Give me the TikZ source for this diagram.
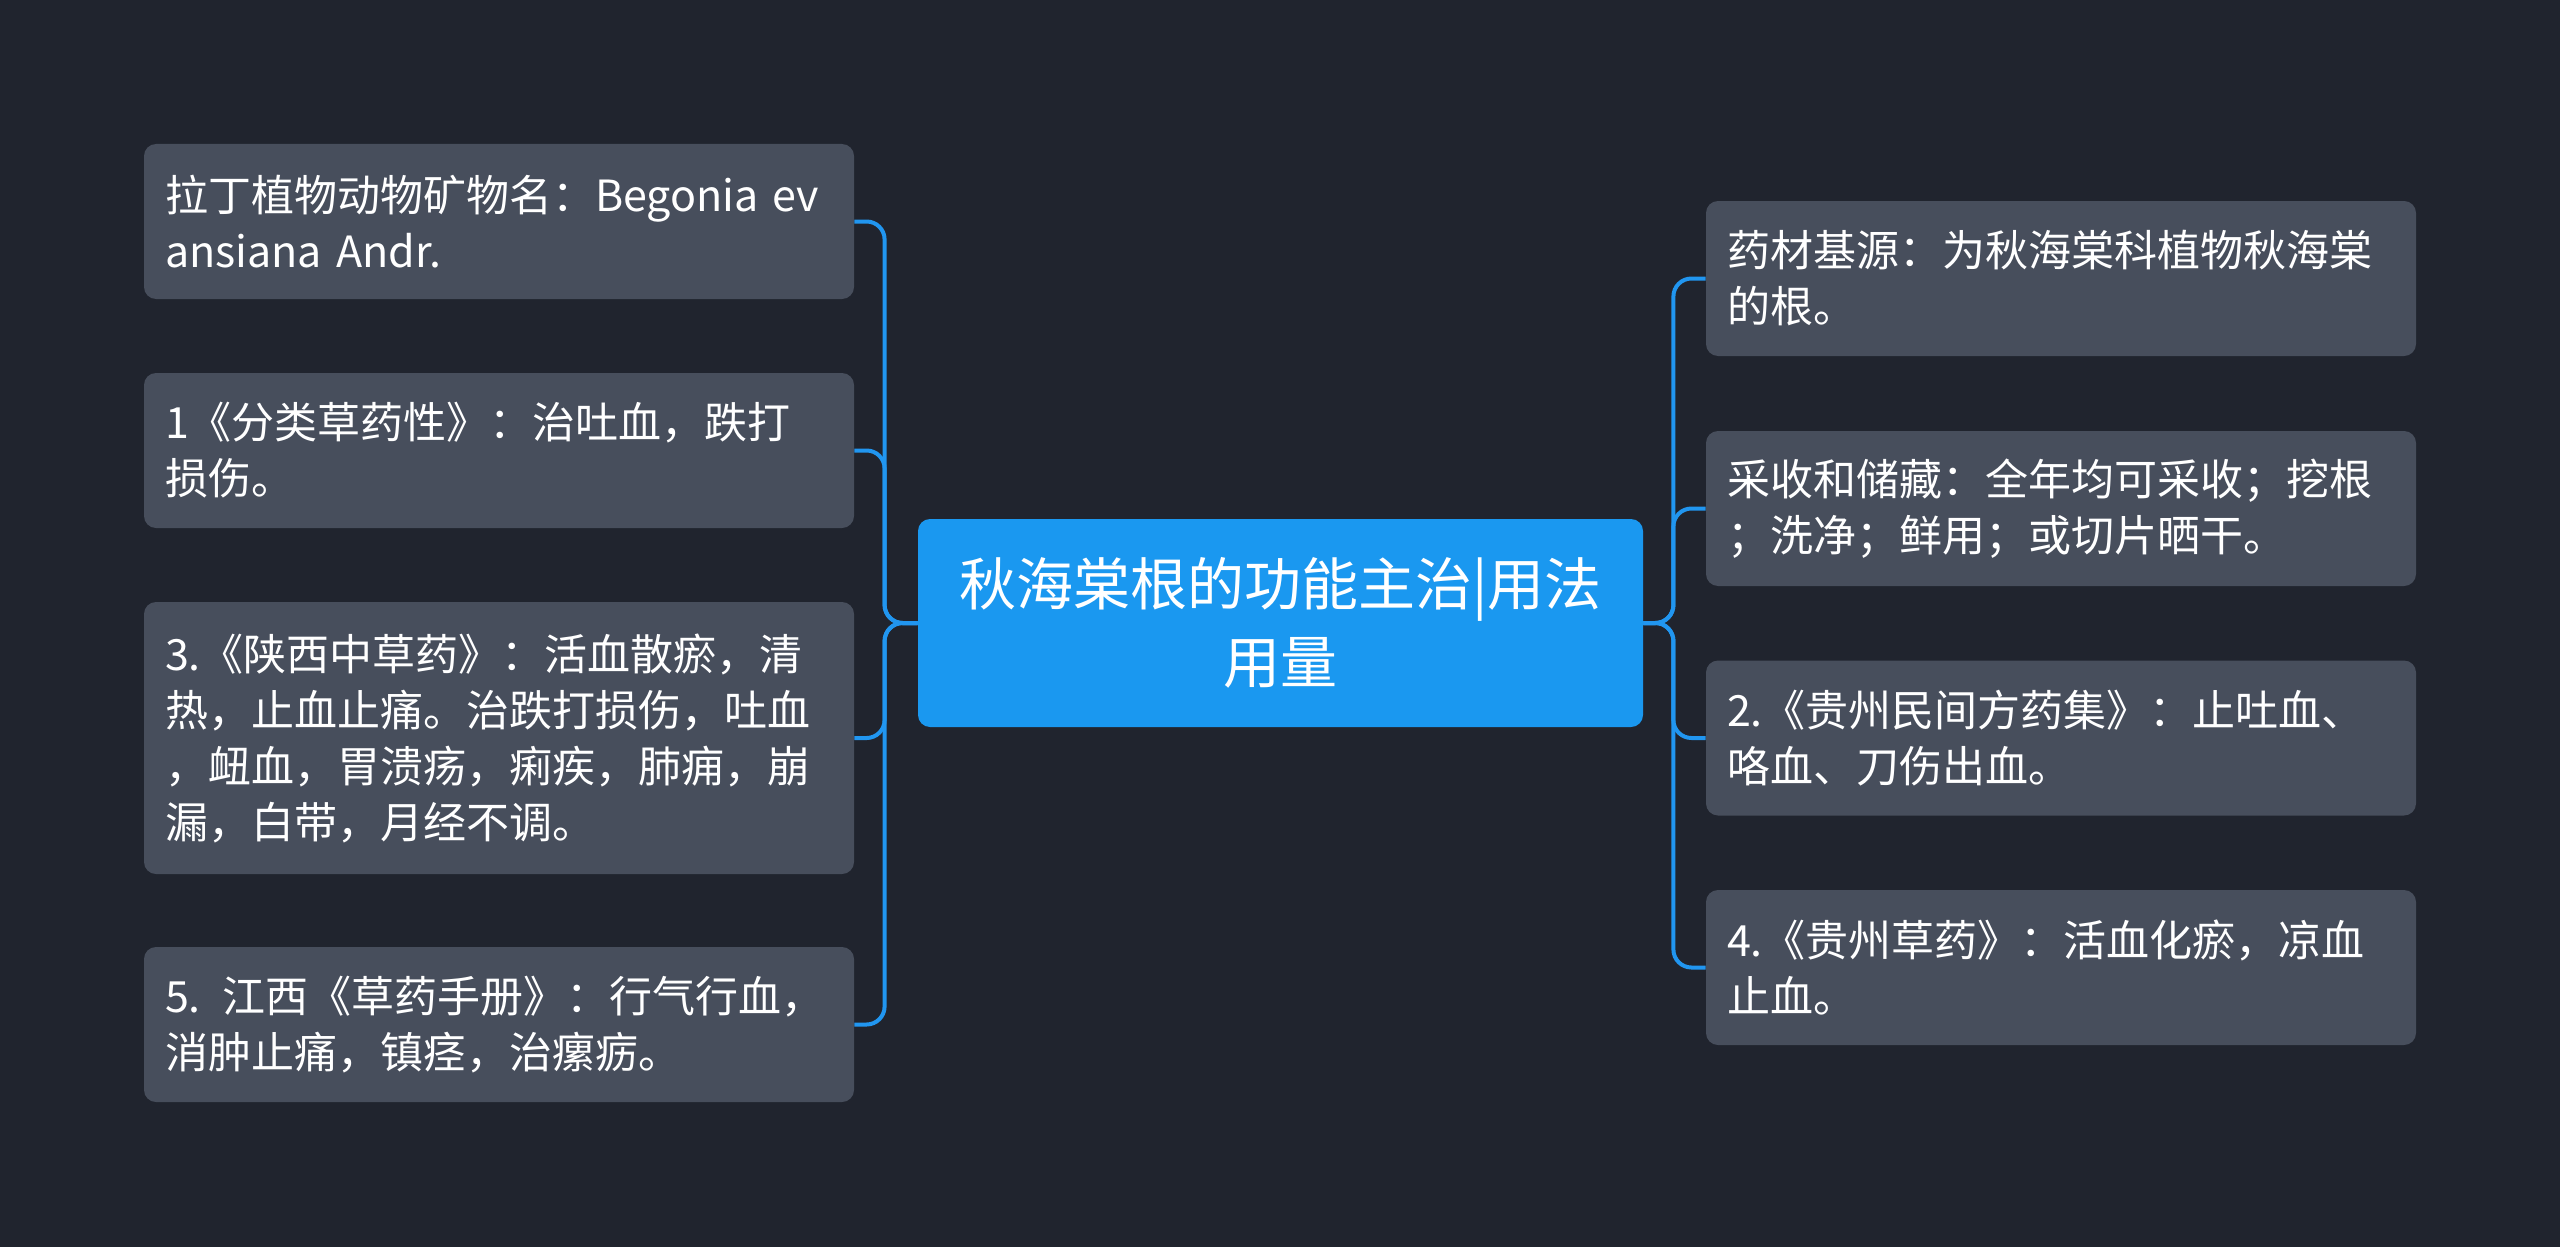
\documentclass[tikz,border=0pt]{standalone}
\usepackage{fontspec}
\setmainfont{Noto Sans CJK SC}
\definecolor{bgnavy}{HTML}{20242E}
\definecolor{leafgray}{HTML}{474E5C}
\definecolor{hubblue}{HTML}{1A98F0}
\definecolor{wireblue}{HTML}{2196F0}
\tikzset{
  leafbox/.style={fill=leafgray, rounded corners=6pt, text=white, text width=334pt,
    inner xsep=10.5pt, align=left, minimum height=77.5pt, font=\fontsize{21.5}{28}\selectfont},
  hubbox/.style={fill=hubblue, rounded corners=6pt, text=white, minimum width=362.5pt,
    minimum height=104pt, align=center, font=\fontsize{28.5}{39}\selectfont},
  wire/.style={draw=wireblue, line width=2pt, rounded corners=9pt}
}
\begin{document}
\begin{tikzpicture}[x=0.5pt, y=-0.5pt]
  \fill[bgnavy] (0,0) rectangle (2560,1247);
  \useasboundingbox (0,0) rectangle (2560,1247);
  % centre
  \node[hubbox] (hub) at (1280.5,623) {秋海棠根的功能主治|用法\\用量};
  % left side
  \node[leafbox] (l1) at (499,221.5) {拉丁植物动物矿物名：Begonia ev\\ansiana Andr.};
  \node[leafbox] (l2) at (499,450.5) {1《分类草药性》：治吐血，跌打\\损伤。};
  \node[leafbox, minimum height=136pt] (l3) at (499,738) {3.《陕西中草药》：活血散瘀，清\\热，止血止痛。治跌打损伤，吐血\\，衄血，胃溃疡，痢疾，肺痈，崩\\漏，白带，月经不调。};
  \node[leafbox] (l4) at (499,1024.5) {5. 江西《草药手册》：行气行血，\\消肿止痛，镇痉，治瘰疬。};
  % right side
  \node[leafbox] (r1) at (2061,278.5) {药材基源：为秋海棠科植物秋海棠\\的根。};
  \node[leafbox] (r2) at (2061,508.5) {采收和储藏：全年均可采收；挖根\\；洗净；鲜用；或切片晒干。};
  \node[leafbox] (r3) at (2061,738) {2.《贵州民间方药集》：止吐血、\\咯血、刀伤出血。};
  \node[leafbox] (r4) at (2061,967.5) {4.《贵州草药》：活血化瘀，凉血\\止血。};
  \foreach \n in {l1,l2,l3,l4} \draw[wire] (hub.west) -- ++(-33,0) |- (\n.east);
  \foreach \n in {r1,r2,r3,r4} \draw[wire] (hub.east) -- ++(30,0) |- (\n.west);
\end{tikzpicture}
\end{document}
